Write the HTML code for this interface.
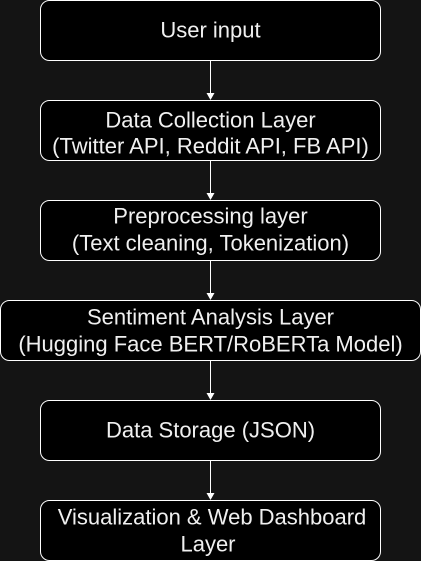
<!DOCTYPE html>
<html><head><style>
html,body{margin:0;padding:0;background:#141414;}
svg{display:block}
text{font-family:"Liberation Sans",Arial,sans-serif;font-size:22px;fill:#f0f0f0;text-anchor:middle;dominant-baseline:central}
</style></head><body>
<svg width="421" height="561" viewBox="0 0 421 561">
<rect width="421" height="561" fill="#141414"/>
<g fill="#000" stroke="#fff" stroke-width="1">
<rect x="40.5" y="0.5" width="340" height="60" rx="9"/>
<rect x="40.5" y="100.5" width="340" height="60" rx="9"/>
<rect x="40.5" y="200.5" width="340" height="60" rx="9"/>
<rect x="0.5" y="300.5" width="420" height="60" rx="9"/>
<rect x="40.5" y="400.5" width="340" height="60" rx="9"/>
<rect x="40.5" y="500.5" width="340" height="60" rx="9"/>
</g>
<g stroke="#fff" stroke-width="1">
<line x1="210.5" y1="61" x2="210.5" y2="94"/>
<line x1="210.5" y1="161" x2="210.5" y2="194"/>
<line x1="210.5" y1="261" x2="210.5" y2="294"/>
<line x1="210.5" y1="361" x2="210.5" y2="394"/>
<line x1="210.5" y1="461" x2="210.5" y2="494"/>
</g>
<g fill="#fff">
<polygon points="206.5,93 214.5,93 210.5,100"/>
<polygon points="206.5,193 214.5,193 210.5,200"/>
<polygon points="206.5,293 214.5,293 210.5,300"/>
<polygon points="206.5,393 214.5,393 210.5,400"/>
<polygon points="206.5,493 214.5,493 210.5,500"/>
</g>
<text x="210.5" y="30">User input</text>
<text x="210.5" y="120">Data Collection Layer</text>
<text x="210.5" y="146">(Twitter API, Reddit API, FB API)</text>
<text x="210.5" y="216">Preprocessing layer</text>
<text x="210.5" y="243">(Text cleaning, Tokenization)</text>
<text x="210.5" y="317">Sentiment Analysis Layer</text>
<text x="210.5" y="344">(Hugging Face BERT/RoBERTa Model)</text>
<text x="210.5" y="430">Data Storage (JSON)</text>
<text x="212" y="517">Visualization &amp; Web Dashboard</text>
<text x="208" y="544">Layer</text>
</svg>
</body></html>
